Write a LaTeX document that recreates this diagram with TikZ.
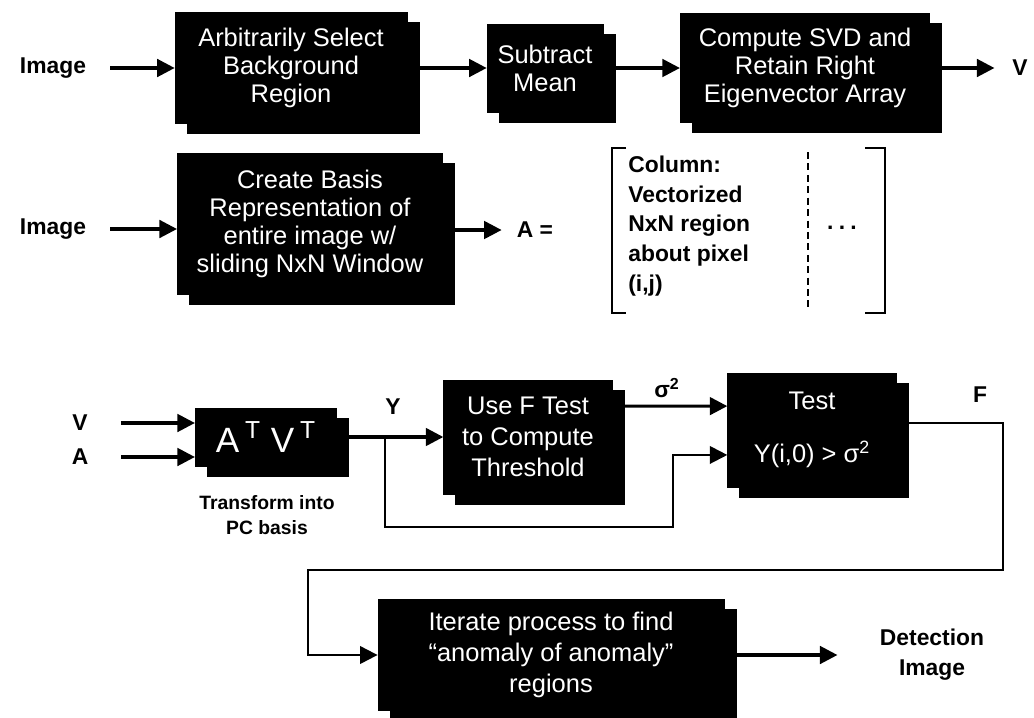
\documentclass[tikz,border=0pt]{standalone}
\usepackage{fontspec}
\setmainfont{Liberation Sans}
\usetikzlibrary{arrows.meta,shadows,positioning}

\tikzset{
  blk/.style={fill=black,draw=black,text=white,align=center,inner sep=0pt,
    font=\fontsize{14.5}{16}\selectfont,
    copy shadow={shadow xshift=6.8pt,shadow yshift=-5.7pt,fill=black,draw=black}},
  lbl/.style={font=\bfseries\fontsize{13}{17}\selectfont,align=center,inner sep=0pt},
  arr/.style={-{Triangle[length=10pt,width=10pt]},line width=1.8pt},
  wire/.style={-{Triangle[length=10pt,width=10pt]},line width=1.2pt},
}

\begin{document}
\begin{tikzpicture}[x=0.02cm,y=-0.02cm]
        \useasboundingbox (0,0) rectangle (1034,717);
        \node[lbl] (img1) at (53,68) {Image};
        \node[blk,minimum width=132pt,minimum height=63pt] (sel) at (291,68) {Arbitrarily Select\\Background\\Region};
        \node[blk,minimum width=66pt,minimum height=50pt] (sub) at (545,68) {Subtract\\Mean};
        \node[blk,minimum width=142pt,minimum height=62pt] (svd) at (805,68) {Compute SVD and\\Retain Right\\Eigenvector Array};
        \node[lbl] (vout) at (1020,68) {V};
        \draw[arr,shorten <=13.6pt] (img1) -- (sel);
        \draw[arr] (sel) -- (sub);
        \draw[arr] (sub) -- (svd);
        \draw[arr,shorten >=10pt] (svd) -- (vout);

        \node[lbl] (img2) at (53,229) {Image};
        \node[blk,minimum width=151pt,minimum height=80pt] (bas) at (310,224) {Create Basis\\Representation of\\entire image w/\\sliding NxN Window};
        \node[lbl] (aeq) at (535,230) {A =};
        \draw[arr,shorten <=13.6pt] (img2.east) -- (img2.east -| bas.west);
        \draw[arr,shorten >=8.5pt] (bas.east |- aeq.west) -- (aeq.west);
        \draw[line width=1.2pt] (626,148) -- (612,148) -- (612,313) -- (626,313);
        \draw[line width=1.2pt] (865,148) -- (885,148) -- (885,313) -- (865,313);
        \node[lbl,align=left,anchor=west] (col) at (628,226) {Column:\\Vectorized\\NxN region\\about pixel\\(i,j)};
        \draw[line width=1pt,dash pattern=on 4pt off 2.5pt] (808,152) -- (808,310);
        \node[lbl] (dots) at (842,228) {.\hspace{3pt}.\hspace{3pt}.};

        \node[lbl] (vin) at (80,423) {V};
        \node[lbl] (ain) at (80,457) {A};
        \node[blk,minimum width=80.5pt,minimum height=33pt,font=\fontsize{20}{24}\selectfont] (atv) at (266,437) {A\,\textsuperscript{T} V\,\textsuperscript{T}};
        \node[lbl,font=\bfseries\fontsize{11}{14}\selectfont] (trl) at (267,515) {Transform into\\PC basis};
        \draw[arr,shorten <=18.7pt] (vin.east) -- (vin.east -| atv.west);
        \draw[arr,shorten <=18.7pt] (ain.east) -- (ain.east -| atv.west);
        \node[blk,minimum width=96pt,minimum height=65pt,font=\fontsize{14.5}{17.5}\selectfont] (ft) at (528,437) {Use F Test\\to Compute\\Threshold};
        \node[blk,minimum width=96pt,minimum height=65pt] (tst) at (812,430) {Test\\[14pt]Y(i,0) > σ\textsuperscript{2}};
        \node[lbl] (ylab) at (393,407) {Y};
        \node[lbl] (sig) at (667,388) {σ\textsuperscript{2}};
        \node[lbl] (flab) at (980,395) {F};
        \draw[arr] (atv) -- (ft);
        \draw[arr] ([yshift=17.6pt]ft.east) -- ([yshift=13.6pt]tst.west);
        \coordinate (yb) at (385,437);
        \coordinate (yd) at (673,527);
        \draw[wire] (yb) |- (yd) |- ([yshift=-14.2pt]tst.west);

        \node[blk,minimum width=197pt,minimum height=63pt,font=\fontsize{14.5}{17.5}\selectfont] (itr) at (551,655) {Iterate process to find\\``anomaly of anomaly''\\regions};
        \node[lbl] (det) at (932,655) {Detection\\Image};
        \coordinate (fk) at (1003,570);
        \coordinate (fl) at (308,570);
        \draw[wire] ([yshift=4pt]tst.east) -| (fk) -- (fl) |- (itr.west);
        \draw[arr,shorten >=24pt] (itr) -- (det);
      \end{tikzpicture}
\end{document}
